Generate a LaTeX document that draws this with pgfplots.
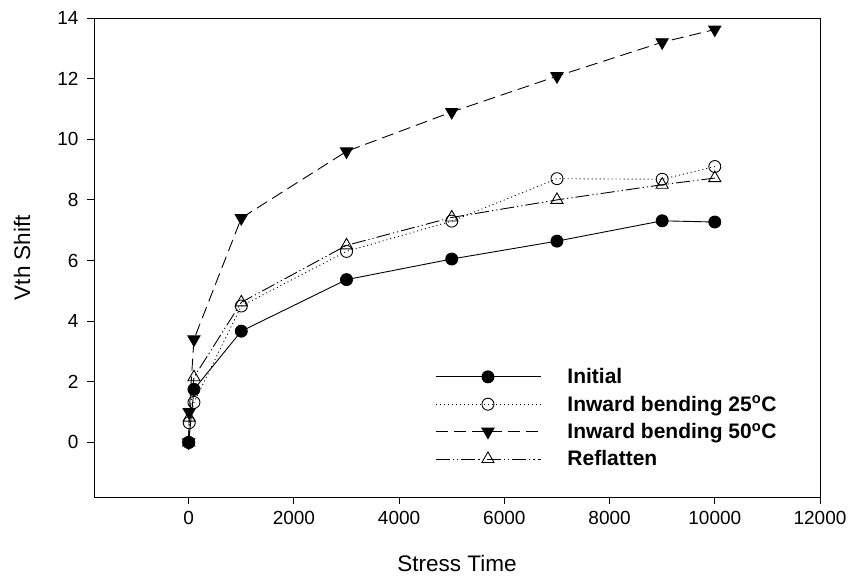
\documentclass[border=0pt]{standalone}
\usepackage{pgfplots}
\pgfplotsset{compat=1.18}
\usepackage{fontspec}
\setmainfont{Liberation Sans}
\begin{document}
\begin{tikzpicture}
\begin{axis}[
  scale only axis,
  width=726pt, height=479pt,
  xmin=-1800, xmax=12000,
  ymin=-1.8, ymax=14,
  xtick={0,2000,4000,6000,8000,10000,12000},
  ytick={0,2,4,6,8,10,12,14},
  xtick pos=left, ytick pos=left,
  tick align=outside,
  major tick length=7pt,
  scaled x ticks=false,
  /pgf/number format/assume math mode=true,
  /pgf/number format/set thousands separator={},
  tick label style={font=\fontsize{19}{22}\selectfont},
  xticklabel style={yshift=-4pt},
  yticklabel style={xshift=-5pt},
  xlabel={Stress Time}, ylabel={Vth Shift},
  label style={font=\fontsize{22.5}{26}\selectfont},
  xlabel style={at={(axis description cs:0.5,-0.138)}, anchor=center},
  ylabel style={at={(axis description cs:-0.099,0.5)}, anchor=center},
  axis line style={line width=0.9pt},
  every tick/.style={line width=0.9pt, black},
  legend style={at={(0.466,0.277)}, anchor=north west, draw=none, fill=none,
    font=\fontsize{21}{24}\selectfont\bfseries, row sep=6.5pt,
    /tikz/every odd column/.append style={column sep=24pt}},
  legend cell align=left,
  legend image code/.code={\draw[#1,mark repeat=2,mark phase=2] plot coordinates {(0pt,0pt) (52pt,0pt) (105pt,0pt)};},
]
\addplot[black, line width=0.9pt, solid, mark=*, mark size=6pt, mark options={solid, fill=black}]
 coordinates {(0,0) (100,1.75) (1000,3.67) (3000,5.37) (5000,6.05) (7000,6.64) (9000,7.31) (10000,7.27)};
\addlegendentry{Initial}
\addplot[black, line width=0.9pt, dash pattern=on 1pt off 3pt, mark=o, mark size=6pt, mark options={solid, fill=white}]
 coordinates {(0,0) (10,0.65) (100,1.32) (1000,4.5) (3000,6.3) (5000,7.3) (7000,8.7) (9000,8.68) (10000,9.1)};
\addlegendentry{Inward bending 25\textsuperscript{o}C}
\addplot[black, line width=0.9pt, dash pattern=on 12pt off 6pt, mark=triangle*, mark size=7pt, mark options={solid, fill=black, rotate=180}]
 coordinates {(0,0) (10,1.0) (100,3.4) (1000,7.4) (3000,9.6) (5000,10.9) (7000,12.08) (9000,13.2) (10000,13.62)};
\addlegendentry{Inward bending 50\textsuperscript{o}C}
\addplot[black, line width=0.9pt, dash pattern=on 14pt off 3pt on 1.2pt off 3pt on 1.2pt off 3pt, mark=triangle, mark size=7pt, mark options={solid, fill=white}]
 coordinates {(0,0) (10,0.82) (100,2.15) (1000,4.62) (3000,6.5) (5000,7.42) (7000,8.0) (9000,8.5) (10000,8.72)};
\addlegendentry{Reflatten}
\end{axis}
\path (current axis.south west) ++(-94pt,-80pt) coordinate (bl);
\path (current axis.north east) ++(31pt,18pt) coordinate (tr);
\useasboundingbox (bl) rectangle (tr);
\end{tikzpicture}
\end{document}
